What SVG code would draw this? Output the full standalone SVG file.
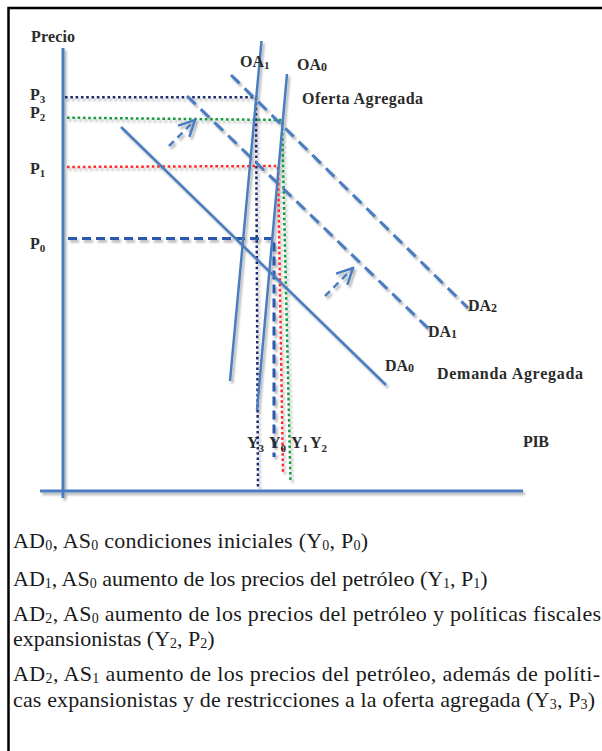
<svg xmlns="http://www.w3.org/2000/svg" width="602" height="751" viewBox="0 0 602 751">
<style>
.ax{stroke:#4a7dbf;stroke-width:3;fill:none}
.cv{stroke:#4a7dbf;stroke-width:2.5;fill:none}
.dsh{stroke:#4a7dbf;stroke-width:3;fill:none;stroke-dasharray:12 7}
.arr{stroke:#4a7dbf;stroke-width:2.5;fill:none;stroke-dasharray:7 5}
.navy{stroke:#1e2a72;stroke-width:2.5;fill:none;stroke-dasharray:2.6 2.7}
.grn{stroke:#129a3e;stroke-width:2.5;fill:none;stroke-dasharray:2.6 2.7}
.red{stroke:#ff2a2a;stroke-width:2.5;fill:none;stroke-dasharray:2.6 2.7}
.p0{stroke:#2c58ad;stroke-width:3;fill:none;stroke-dasharray:9 5}
.lb{font-family:"Liberation Serif",serif;font-weight:bold;fill:#2b2b2b;font-size:16px}
.cap{font-family:"Liberation Serif",serif;fill:#1a1a1a;font-size:22px}
</style>
<defs>
<filter id="sh" x="-20%" y="-20%" width="140%" height="140%">
<feDropShadow dx="2" dy="2.5" stdDeviation="1.2" flood-color="#000" flood-opacity="0.3"/>
</filter>
<marker id="ah" markerUnits="userSpaceOnUse" markerWidth="20" markerHeight="20" viewBox="-18 -10 20 20" refX="0" refY="0" orient="auto">
<path d="M-16,-8 L0,0 L-16,8" stroke="#4a7dbf" stroke-width="2.5" fill="none"/>
</marker>
</defs>
<rect width="602" height="751" fill="#fff"/>
<path d="M8.5,760 V8 H610" stroke="#000" stroke-width="2.5" fill="none"/>
<g id="chart" filter="url(#sh)">
<g id="guides">
<path class="navy" d="M65,97.3 H256 L258,489"/>
<path class="grn" d="M67,117.7 L282,120 L290.5,481"/>
<path class="red" d="M67,167 L278,166 L283,473"/>
<path class="p0" d="M68,238.5 H274 V457"/>
</g>
<g id="axes">
<path class="ax" d="M63,48 V498"/>
<path class="ax" d="M40,491 H523"/>
</g>
<g id="curves">
<path id="OA1" class="cv" d="M261.5,41 L230,381"/>
<path id="OA0" class="cv" d="M287,74 L257,410"/>
<path id="DA0" class="cv" d="M121,127 L386,385"/>
<path id="DA1" class="dsh" d="M187,96 L430,330"/>
<path id="DA2" class="dsh" d="M231,75 L468,308"/>
</g>
<g id="connectors">
<path class="arr" d="M169,146 L195,120" marker-end="url(#ah)"/>
<path class="arr" d="M325,296 L353,268" marker-end="url(#ah)"/>
</g>
</g>
<g id="labels">
<text class="lb" x="31" y="42" textLength="44">Precio</text>
<text class="lb" x="30" y="99.5">P<tspan font-size="11" dy="3">3</tspan></text>
<text class="lb" x="30" y="117.5">P<tspan font-size="11" dy="3">2</tspan></text>
<text class="lb" x="30" y="173.5">P<tspan font-size="11" dy="3">1</tspan></text>
<text class="lb" x="30" y="249">P<tspan font-size="11" dy="3">0</tspan></text>
<text class="lb" x="240" y="67">OA<tspan font-size="11" dy="2">1</tspan></text>
<text class="lb" x="297" y="69.5">OA<tspan font-size="12" dy="1">0</tspan></text>
<text class="lb" x="302" y="104" textLength="121">Oferta Agregada</text>
<text class="lb" x="468" y="311">DA<tspan font-size="12" dy="1">2</tspan></text>
<text class="lb" x="428" y="337">DA<tspan font-size="12" dy="1">1</tspan></text>
<text class="lb" x="385" y="371">DA<tspan font-size="12" dy="1">0</tspan></text>
<text class="lb" x="437" y="379" textLength="146">Demanda Agregada</text>
<text class="lb" x="523" y="447" textLength="26">PIB</text>
<text class="lb" x="247" y="448">Y<tspan font-size="11" dy="4">3</tspan></text>
<text class="lb" x="269" y="448">Y<tspan font-size="11" dy="4">0</tspan></text>
<text class="lb" x="291" y="448">Y<tspan font-size="11" dy="4">1</tspan></text>
<text class="lb" x="310" y="448">Y<tspan font-size="11" dy="4">2</tspan></text>
</g>
<g id="caption">
<text class="cap" x="13" y="548" textLength="355">AD<tspan font-size="14" dy="2">0</tspan><tspan dy="-2">, AS</tspan><tspan font-size="14" dy="2">0</tspan><tspan dy="-2"> condiciones iniciales (Y</tspan><tspan font-size="14" dy="2">0</tspan><tspan dy="-2">, P</tspan><tspan font-size="14" dy="2">0</tspan><tspan dy="-2">)</tspan></text>
<text class="cap" x="13" y="586">AD<tspan font-size="14" dy="2">1</tspan><tspan dy="-2">, AS</tspan><tspan font-size="14" dy="2">0</tspan><tspan dy="-2"> aumento de los precios del petróleo (Y</tspan><tspan font-size="14" dy="2">1</tspan><tspan dy="-2">, P</tspan><tspan font-size="14" dy="2">1</tspan><tspan dy="-2">)</tspan></text>
<text class="cap" x="13" y="621" textLength="588">AD<tspan font-size="14" dy="2">2</tspan><tspan dy="-2">, AS</tspan><tspan font-size="14" dy="2">0</tspan><tspan dy="-2"> aumento de los precios del petróleo y políticas fiscales</tspan></text>
<text class="cap" x="13" y="646">expansionistas (Y<tspan font-size="14" dy="2">2</tspan><tspan dy="-2">, P</tspan><tspan font-size="14" dy="2">2</tspan><tspan dy="-2">)</tspan></text>
<text class="cap" x="13" y="681" textLength="587">AD<tspan font-size="14" dy="2">2</tspan><tspan dy="-2">, AS</tspan><tspan font-size="14" dy="2">1</tspan><tspan dy="-2"> aumento de los precios del petróleo, además de políti-</tspan></text>
<text class="cap" x="13" y="707" textLength="582">cas expansionistas y de restricciones a la oferta agregada (Y<tspan font-size="14" dy="2">3</tspan><tspan dy="-2">, P</tspan><tspan font-size="14" dy="2">3</tspan><tspan dy="-2">)</tspan></text>
</g>
</svg>
